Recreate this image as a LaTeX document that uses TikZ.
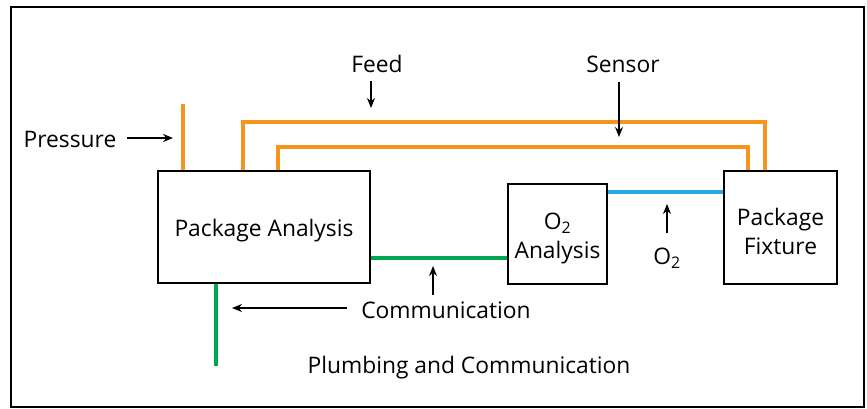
\documentclass[tikz,border=0pt]{standalone}
\usepackage{fontspec}
\setmainfont{Open Sans}
\usetikzlibrary{arrows.meta}
\definecolor{porange}{HTML}{F7941D}
\definecolor{pblue}{HTML}{27AAE1}
\definecolor{pgreen}{HTML}{00A651}
\newcommand{\toppad}{\rule{0pt}{25pt}}
\tikzset{
  box/.style={draw=black, line width=2pt, inner sep=0pt, align=center, font=\fontsize{22.8}{29}\selectfont},
  lbl/.style={inner sep=0pt, font=\fontsize{22.8}{29}\selectfont},
  pipe/.style={line width=4pt},
  ptr/.style={line width=1.4pt, -{Stealth[length=10pt,width=8pt]}},
}
\begin{document}
\begin{tikzpicture}[x=1pt,y=-1pt]
\useasboundingbox (0,0) rectangle (867,408);
\draw[line width=2.2pt] (11,7) rectangle (864,407);

\node[box, minimum width=212pt, minimum height=112pt] (PA) at (264,227) {\toppad Package Analysis};
\node[box, minimum width=99pt, minimum height=100pt] (OA) at (557.5,234) {\toppad O\textsubscript{2}\\Analysis};
\node[box, minimum width=113pt, minimum height=113pt] (PF) at (780.5,227.5) {\toppad Package\\Fixture};

% orange plumbing
\coordinate (pr) at (183,104);
\draw[pipe, porange] (pr) -- (pr |- PA.north);
\coordinate (fa) at (243,122);
\coordinate (fb) at (765,122);
\draw[pipe, porange, line join=miter] (fa |- PA.north) -- (fa) -- (fb) -- (fb |- PF.north);
\coordinate (sa) at (278,147);
\coordinate (sb) at (748,147);
\draw[pipe, porange, line join=miter] (sa |- PA.north) -- (sa) -- (sb) -- (sb |- PF.north);

% blue
\coordinate (bl) at (600,192);
\draw[pipe, pblue] (bl -| OA.east) -- (bl -| PF.west);

% green
\coordinate (gl) at (400,258);
\draw[pipe, pgreen] (gl -| PA.east) -- (gl -| OA.west);
\coordinate (gv) at (216,366);
\draw[pipe, pgreen] (gv |- PA.south) -- (gv);

% labels
\node[lbl] (feed) at (377,64) {Feed};
\node[lbl] (sensor) at (623,64) {Sensor};
\node[lbl] (press) at (70,139) {Pressure};
\node[lbl] (o2) at (667,258) {O\textsubscript{2}};
\node[lbl] (comm) at (446,310) {Communication};
\node[lbl] (plumb) at (469,368) {Plumbing and Communication};

% pointer arrows
\coordinate (feedA) at (371,81);
\coordinate (feedB) at (371,108);
\draw[ptr] (feedA) -- (feedB);
\coordinate (senA) at (619,82);
\coordinate (senB) at (619,137);
\draw[ptr] (senA) -- (senB);
\coordinate (prA) at (127,138);
\coordinate (prB) at (173,138);
\draw[ptr] (prA) -- (prB);
\coordinate (o2A) at (667,233);
\coordinate (o2B) at (667,204);
\draw[ptr] (o2A) -- (o2B);
\coordinate (cmA) at (347,308);
\coordinate (cmB) at (232,308);
\draw[ptr] (cmA) -- (cmB);
\coordinate (cuA) at (433,295);
\coordinate (cuB) at (433,266);
\draw[ptr] (cuA) -- (cuB);
\end{tikzpicture}
\end{document}
